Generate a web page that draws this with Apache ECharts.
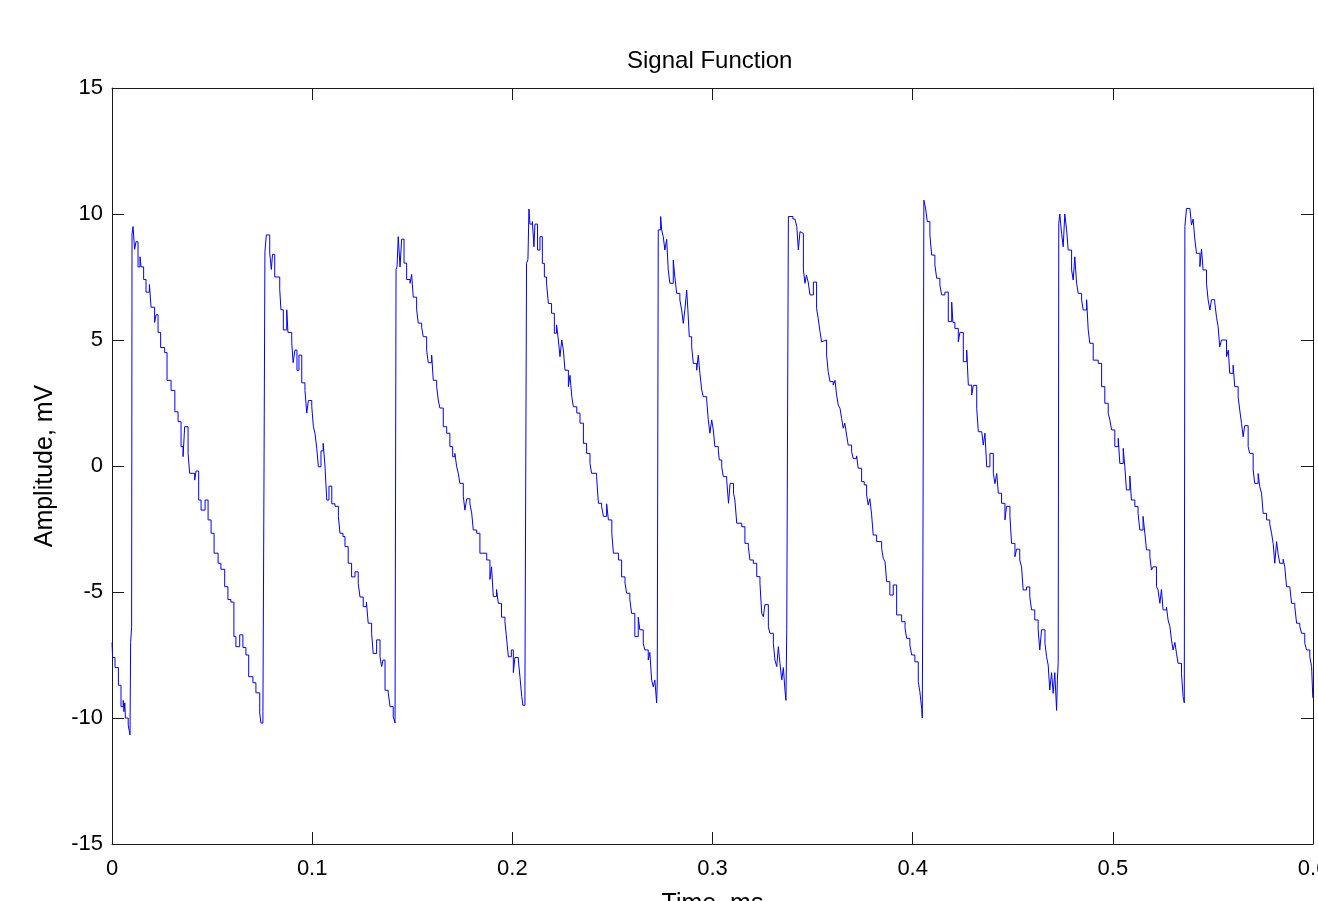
<!DOCTYPE html>
<html>
<head>
<meta charset="utf-8">
<script src="https://cdn.jsdelivr.net/npm/echarts@6/dist/echarts.min.js"></script>
<style>
html,body{margin:0;padding:0;background:#fff;}
#chart{width:1318px;height:901px;}
</style>
</head>
<body>
<div id="chart"></div>
<script>
// Time axis values (ms) and amplitude (mV)
const timeMs = [
 0,0.0003,0.0015,0.0032,0.0045,0.0056,0.0060,0.0064,0.0067,0.0081,0.0090,0.0093,0.0098,0.0100,0.0105,
 0.0113,0.0120,0.0130,0.0140,0.0145,0.0158,0.0170,0.0187,0.0195,0.0213,0.0220,0.0230,0.0243,0.0263,0.0275,0.0295,0.0314,0.0330,0.0345,0.0355,0.0363,0.0380,0.0388,0.0413,0.0420,0.0433,0.0445,0.0465,0.0480,0.0495,0.0510,0.0530,0.0544,0.0563,0.0579,0.0594,0.0609,0.0619,0.0638,0.0654,0.0669,0.0683,0.0704,0.0719,0.0738,0.0744,0.0754,0.0759,0.0764,0.0771,
 0.0788,0.0796,0.0802,0.0813,0.0838,0.0844,0.0856,0.0873,0.0879,0.0898,0.0905,0.0914,0.0924,0.0934,0.0948,0.0964,0.0973,0.0981,0.0998,0.1006,0.1014,0.1023,0.1031,0.1044,0.1055,0.1064,0.1073,0.1084,0.1098,0.1114,0.1131,0.1139,0.1154,0.1164,0.1180,0.1197,0.1214,0.1230,0.1239,0.1255,0.1271,0.1280,0.1297,0.1305,0.1322,0.1339,0.1347,0.1354,0.1364,0.1380,0.1389,0.1405,0.1414,0.1419,0.1424,0.1430,
 0.1439,0.1447,0.1459,0.1472,0.1489,0.1497,0.1505,0.1522,0.1530,0.1547,0.1555,0.1572,0.1580,0.1597,0.1605,0.1622,0.1630,0.1638,0.1655,0.1672,0.1688,0.1702,0.1713,0.1722,0.1730,0.1738,0.1755,0.1763,0.1772,0.1788,0.1797,0.1805,0.1822,0.1838,0.1872,0.1888,0.1896,0.1905,0.1921,0.1930,0.1946,0.1963,0.1972,0.1980,0.1995,0.2005,0.2013,0.2030,0.2038,0.2047,0.2053,0.2063,0.2071,0.2078,0.2083,
 0.2088,0.2100,0.2108,0.2113,0.2126,0.2138,0.2150,0.2160,0.2171,0.2180,0.2196,0.2210,0.2221,0.2230,0.2238,0.2247,0.2255,0.2263,0.2280,0.2288,0.2297,0.2305,0.2322,0.2338,0.2355,0.2371,0.2388,0.2396,0.2421,0.2430,0.2446,0.2455,0.2471,0.2480,0.2497,0.2505,0.2530,0.2546,0.2563,0.2571,0.2587,0.2596,0.2612,0.2629,0.2637,0.2654,0.2662,0.2679,0.2687,0.2696,0.2704,0.2712,0.2721,0.2724,0.2729,0.2741,
 0.2746,0.2754,0.2762,0.2771,0.2779,0.2787,0.2804,0.2812,0.2821,0.2837,0.2846,0.2854,0.2862,0.2871,0.2877,0.2884,0.2896,0.2904,0.2921,0.2929,0.2937,0.2946,0.2954,0.2971,0.2979,0.2987,0.2996,0.3004,0.3012,0.3029,0.3034,0.3046,0.3054,0.3071,0.3080,0.3088,0.3105,0.3112,0.3121,0.3146,0.3162,0.3179,0.3187,0.3204,0.3221,0.3237,0.3246,0.3254,0.3262,0.3279,0.3287,0.3304,0.3312,0.3321,0.3329,0.3337,0.3346,0.3354,0.3362,0.3367,0.3371,0.3379,
 0.3387,0.3402,0.3412,0.3421,0.3429,0.3437,0.3446,0.3454,0.3462,0.3469,0.3478,0.3487,0.3504,0.3520,0.3528,0.3537,0.3545,0.3553,0.3570,0.3578,0.3587,0.3603,0.3612,0.3620,0.3628,0.3637,0.3645,0.3653,0.3661,0.3670,0.3678,0.3695,0.3703,0.3720,0.3728,0.3745,0.3758,0.3770,0.3778,0.3786,0.3795,0.3803,0.3820,0.3845,0.3853,0.3862,0.3870,0.3886,0.3903,0.3920,0.3945,0.3962,0.3970,0.3986,0.3995,0.4011,0.4028,0.4036,0.4045,0.4048,0.4051,0.4056,
 0.4065,0.4073,0.4086,0.4095,0.4111,0.4120,0.4136,0.4145,0.4161,0.4178,0.4195,0.4201,0.4211,0.4228,0.4236,0.4253,0.4270,0.4278,0.4295,0.4303,0.4320,0.4328,0.4345,0.4353,0.4361,0.4370,0.4386,0.4403,0.4411,0.4420,0.4428,0.4444,0.4461,0.4469,0.4486,0.4494,0.4511,0.4519,0.4535,0.4544,0.4552,0.4569,0.4585,0.4594,0.4610,0.4627,0.4635,0.4644,0.4661,0.4669,0.4677,0.4685,0.4694,0.4702,0.4710,0.4719,0.4723,0.4727,0.4730,0.4735,
 0.4744,0.4752,0.4760,0.4769,0.4777,0.4794,0.4802,0.4810,0.4819,0.4827,0.4844,0.4852,0.4869,0.4877,0.4885,0.4902,0.4927,0.4944,0.4960,0.4977,0.4985,0.4994,0.5010,0.5027,0.5035,0.5052,0.5060,0.5068,0.5085,0.5093,0.5110,0.5126,0.5135,0.5151,0.5160,0.5168,0.5185,0.5193,0.5201,0.5218,0.5226,0.5235,0.5243,0.5251,0.5268,0.5276,0.5285,0.5293,0.5301,0.5310,0.5318,0.5326,0.5343,0.5351,0.5357,0.5360,0.5368,
 0.5385,0.5393,0.5401,0.5410,0.5418,0.5435,0.5443,0.5451,0.5468,0.5476,0.5485,0.5493,0.5509,0.5518,0.5526,0.5534,0.5543,0.5568,0.5577,0.5584,0.5601,0.5609,0.5626,0.5634,0.5643,0.5651,0.5659,0.5676,0.5684,0.5701,0.5709,0.5726,0.5734,0.5743,0.5751,0.5768,0.5784,0.5793,0.5801,0.5809,0.5818,0.5826,0.5834,0.5851,0.5859,0.5868,0.5884,0.5893,0.5909,0.5918,0.5934,0.5943,0.5959,0.5968,0.5984,0.5993,0.5999
];
const amplitudeMv = [
 -7.0,-7.6,-8.0,-8.7,-9.55,-9.3,-9.75,-9.4,-10.0,-10.28,-10.67,-7.0,-6.4,9.2,9.5,
 8.6,8.9,7.9,8.3,7.9,7.4,6.9,7.2,6.3,5.7,6.0,5.3,4.7,4.5,3.4,3.0,2.15,1.76,0.77,0.37,1.56,0.5,-0.29,-0.56,-0.2,-1.35,-1.75,-1.35,-2.14,-2.67,-3.46,-3.86,-4.1,-4.79,-5.3,-5.4,-6.77,-7.17,-6.7,-7.2,-7.5,-8.36,-8.6,-9.0,-9.8,-10.2,-9.75,-1.0,8.5,9.17,
 8.45,7.8,8.4,7.5,7.0,6.2,5.4,6.2,5.3,4.9,4.1,4.6,3.8,4.4,3.3,3.0,2.1,2.6,2.35,1.56,1.3,0.7,-0.03,0.6,0.9,0.0,-1.35,-0.8,-1.5,-1.6,-2.0,-2.67,-2.8,-3.2,-3.86,-4.4,-4.2,-4.65,-5.2,-5.58,-5.4,-6.24,-6.64,-7.44,-6.9,-7.57,-7.96,-7.7,-8.9,-9.0,-9.55,-9.95,-10.2,7.8,7.9,9.1,
 7.9,9.0,8.05,7.4,7.25,7.6,6.7,6.2,5.67,5.5,5.13,4.6,4.1,4.4,3.4,3.15,2.62,2.3,1.56,1.3,0.77,0.37,0.5,-0.03,-0.29,-0.69,-1.2,-1.75,-1.3,-1.5,-1.87,-2.54,-2.67,-3.46,-3.73,-4.5,-4.0,-5.18,-4.9,-5.45,-6.0,-6.18,-6.9,-7.57,-7.3,-8.2,-7.6,-7.7,-8.36,-9.15,-9.5,-8.76,8.04,8.2,10.2,
 9.6,9.7,8.7,9.6,8.57,9.1,8.04,7.5,7.25,6.45,6.06,5.27,5.6,5.0,4.34,5.0,4.6,3.8,3.15,3.6,2.75,2.35,2.1,1.7,0.9,0.5,0.1,-0.29,-0.42,-1.48,-1.6,-2.0,-1.5,-2.14,-2.67,-3.46,-3.73,-4.4,-4.65,-5.05,-5.3,-5.85,-6.77,-6.0,-6.5,-7.04,-7.3,-7.7,-7.4,-8.5,-8.76,-8.5,-9.4,-8.6,9.37,9.9,
 9.37,9.1,8.57,9.0,7.78,7.25,8.17,7.5,6.85,6.59,6.19,5.66,6.2,6.98,6.2,5.13,4.73,4.07,3.8,4.4,3.68,3.02,2.75,2.62,1.83,1.3,1.83,1.43,0.77,0.63,0.24,-0.03,-0.42,-0.56,-1.48,-0.69,-1.08,-1.35,-2.27,-2.41,-3.07,-3.2,-3.73,-3.86,-4.39,-4.65,-5.85,-5.98,-5.5,-6.38,-6.64,-7.04,-7.7,-7.96,-7.17,-7.83,-8.49,-8.0,-8.89,-9.3,-6.5,9.9,
 9.9,9.8,9.76,9.5,8.57,9.3,9.23,7.78,7.25,7.58,7.3,6.79,7.3,6.25,5.86,5.33,4.93,5.0,4.4,3.74,3.35,3.21,3.4,2.82,2.42,2.29,1.89,1.5,1.7,1.23,0.83,0.57,0.3,0.4,-0.09,-0.62,-0.75,-1.15,-1.55,-1.3,-1.94,-2.74,-3.0,-3.27,-3.66,-3.8,-4.59,-5.12,-4.72,-5.91,-6.18,-6.44,-6.84,-7.1,-7.5,-7.77,-8.56,-8.96,-9.62,-10.0,-4.13,10.55,
 10.2,9.7,9.17,8.37,7.98,7.45,7.18,6.79,6.9,5.73,6.5,5.7,5.46,4.93,5.3,4.14,4.6,3.21,2.82,3.2,2.29,1.36,1.3,0.83,1.3,-0.03,0.5,-0.29,-0.7,-0.3,-1.08,-1.48,-2.14,-1.6,-2.01,-3.07,-3.6,-3.3,-3.73,-4.0,-4.92,-4.8,-5.18,-5.71,-6.11,-6.5,-7.3,-6.5,-7.04,-7.57,-7.9,-8.89,-8.2,-9.02,-8.2,-9.7,-8.5,-7.8,9.63,10.0,
 9.23,8.7,10.0,9.37,8.57,7.78,7.38,8.3,7.25,6.85,6.59,6.19,6.6,5.4,4.87,4.2,4.07,3.15,2.49,2.09,1.83,1.43,0.77,1.1,0.1,0.7,-0.03,-0.95,-0.4,-1.35,-1.61,-1.88,-2.54,-2.0,-2.67,-3.33,-3.6,-4.13,-4.0,-4.79,-4.92,-5.45,-4.9,-5.71,-5.6,-6.11,-6.37,-6.9,-7.3,-7.0,-7.43,-7.83,-8.23,-9.15,-9.4,9.5,10.22,
 10.16,9.56,9.8,8.97,8.44,7.91,8.6,7.78,7.25,6.59,6.19,6.6,6.5,5.9,5.53,4.73,5.0,4.34,4.6,3.68,4.0,3.15,2.75,2.22,1.69,1.16,1.6,0.77,0.5,-0.16,-0.69,-0.3,-0.82,-1.08,-1.88,-2.14,-2.3,-2.67,-3.07,-3.86,-3.0,-3.5,-3.86,-3.7,-4.0,-4.79,-4.8,-5.45,-5.58,-6.24,-6.37,-6.64,-7.04,-7.3,-7.57,-7.96,-9.2
];
const xTicks = [0, 0.1, 0.2, 0.3, 0.4, 0.5, 0.6];
const yTicks = [-15, -10, -5, 0, 5, 10, 15];
const titleText = 'Signal Function';
const xName = 'Time, ms';
const yName = 'Amplitude, mV';

const seriesData = timeMs.map((t, i) => [t, amplitudeMv[i]]);
const FONT = '"Liberation Sans", Arial, sans-serif';
const axisColor = '#1a1a1a';
const fmtX = v => String(Math.round(v * 10) / 10);

const chart = echarts.init(document.getElementById('chart'), null, {renderer: 'canvas'});
const baseX = {
  type: 'value', min: xTicks[0], max: xTicks[xTicks.length - 1], interval: xTicks[1] - xTicks[0],
  splitLine: {show: false},
  axisLine: {show: true, onZero: false, lineStyle: {color: axisColor, width: 1}},
  axisTick: {show: true, inside: true, length: 12, lineStyle: {color: axisColor}}
};
const baseY = {
  type: 'value', min: yTicks[0], max: yTicks[yTicks.length - 1], interval: yTicks[1] - yTicks[0],
  splitLine: {show: false},
  axisLine: {show: true, onZero: false, lineStyle: {color: axisColor, width: 1}},
  axisTick: {show: true, inside: true, length: 12, lineStyle: {color: axisColor}}
};
chart.setOption({
  animation: false,
  backgroundColor: '#ffffff',
  title: {
    text: titleText, left: 627, top: 49, padding: 0,
    textStyle: {fontFamily: FONT, fontSize: 24, fontWeight: 'normal', color: '#000'}
  },
  grid: {left: 112, right: 5, top: 88, bottom: 57, containLabel: false, outerBoundsMode: 'none'},
  xAxis: [
    Object.assign({}, baseX, {
      position: 'bottom',
      name: xName, nameLocation: 'middle', nameGap: 48,
      nameTextStyle: {fontFamily: FONT, fontSize: 25, color: '#000'},
      axisLabel: {show: true, fontFamily: FONT, fontSize: 22, color: '#000', margin: 14,
        showMinLabel: true, showMaxLabel: true, hideOverlap: false, formatter: fmtX}
    }),
    Object.assign({}, baseX, {position: 'top', axisLabel: {show: false}})
  ],
  yAxis: [
    Object.assign({}, baseY, {
      position: 'left',
      name: yName, nameLocation: 'middle', nameGap: 54, nameRotate: 90,
      nameTextStyle: {fontFamily: FONT, fontSize: 25, color: '#000'},
      axisLabel: {show: true, fontFamily: FONT, fontSize: 22, color: '#000', margin: 9,
        showMinLabel: true, showMaxLabel: true}
    }),
    Object.assign({}, baseY, {position: 'right', axisLabel: {show: false}})
  ],
  series: [{
    type: 'line',
    data: seriesData,
    xAxisIndex: 0, yAxisIndex: 0,
    step: 'end',
    showSymbol: false,
    symbol: 'none',
    clip: true,
    lineStyle: {color: '#0000ff', width: 1},
    emphasis: {disabled: true}
  }]
});
</script>
</body>
</html>
